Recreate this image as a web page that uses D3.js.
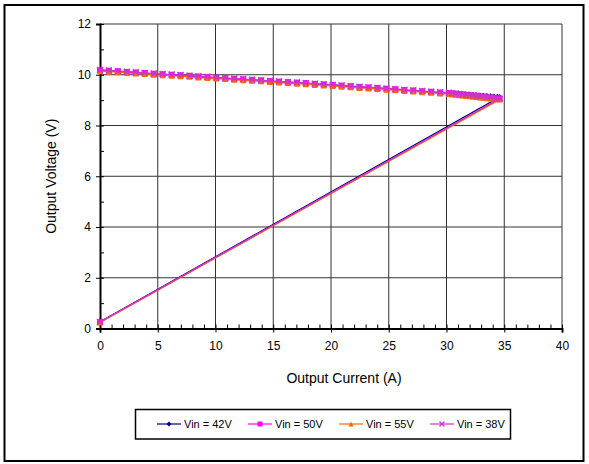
<!DOCTYPE html>
<html>
<head>
<meta charset="utf-8">
<script src="https://cdn.jsdelivr.net/npm/d3@7"></script>
<style>
  html, body { margin: 0; padding: 0; background: #fff; }
  svg { display: block; font-family: "Liberation Sans", Arial, sans-serif; }
</style>
</head>
<body>
<svg id="chart" width="589" height="464"></svg>
<script>
// Output current (A) for each load step; the last point returns to no load
const current = [0, 0.77, 1.55, 2.32, 3.1, 3.87, 4.65, 5.42, 6.2, 6.97,
  7.75, 8.52, 9.3, 10.07, 10.85, 11.62, 12.4, 13.17, 13.95, 14.72,
  15.5, 16.27, 17.05, 17.82, 18.6, 19.37, 20.15, 20.92, 21.7, 22.47,
  23.25, 24.02, 24.8, 25.57, 26.35, 27.12, 27.9, 28.67, 29.45, 30.2,
  30.5, 30.8, 31.1, 31.4, 31.7, 32.0, 32.3, 32.6, 32.9, 33.2,
  33.5, 33.8, 34.1, 34.4, 34.6, 0];

// Output voltage (V) per input voltage
const vin42 = [10.17, 10.15, 10.13, 10.10, 10.08, 10.06, 10.03, 10.01, 9.99, 9.97,
  9.95, 9.92, 9.90, 9.88, 9.86, 9.83, 9.81, 9.79, 9.77, 9.74,
  9.72, 9.70, 9.68, 9.66, 9.63, 9.61, 9.59, 9.56, 9.54, 9.51,
  9.49, 9.47, 9.44, 9.42, 9.39, 9.37, 9.34, 9.32, 9.29, 9.27,
  9.26, 9.25, 9.24, 9.23, 9.22, 9.21, 9.20, 9.19, 9.18, 9.17,
  9.16, 9.15, 9.14, 9.13, 9.12, 0.27];
const vin50 = [10.18, 10.16, 10.14, 10.11, 10.09, 10.07, 10.04, 10.02, 10.00, 9.98,
  9.96, 9.93, 9.91, 9.89, 9.87, 9.84, 9.82, 9.80, 9.78, 9.75,
  9.73, 9.71, 9.69, 9.67, 9.64, 9.62, 9.60, 9.57, 9.55, 9.52,
  9.50, 9.48, 9.45, 9.43, 9.40, 9.38, 9.35, 9.33, 9.30, 9.28,
  9.26, 9.25, 9.23, 9.22, 9.20, 9.19, 9.17, 9.16, 9.14, 9.13,
  9.11, 9.10, 9.08, 9.07, 9.05, 0.25];
const vin55 = [10.14, 10.12, 10.10, 10.07, 10.05, 10.03, 10.00, 9.98, 9.96, 9.94,
  9.92, 9.89, 9.87, 9.85, 9.83, 9.80, 9.78, 9.76, 9.74, 9.71,
  9.69, 9.67, 9.65, 9.63, 9.60, 9.58, 9.56, 9.53, 9.51, 9.48,
  9.46, 9.44, 9.41, 9.39, 9.36, 9.34, 9.31, 9.29, 9.26, 9.24,
  9.22, 9.21, 9.19, 9.18, 9.16, 9.15, 9.13, 9.12, 9.10, 9.09,
  9.07, 9.06, 9.04, 9.03, 9.02, 0.24];
const vin38 = [10.19, 10.17, 10.14, 10.12, 10.10, 10.07, 10.05, 10.03, 10.01, 9.99,
  9.96, 9.94, 9.92, 9.89, 9.87, 9.85, 9.83, 9.80, 9.78, 9.76,
  9.74, 9.71, 9.69, 9.67, 9.65, 9.62, 9.60, 9.58, 9.55, 9.53,
  9.51, 9.48, 9.46, 9.43, 9.41, 9.38, 9.36, 9.33, 9.31, 9.29,
  9.27, 9.26, 9.24, 9.23, 9.21, 9.20, 9.18, 9.17, 9.15, 9.14,
  9.12, 9.11, 9.09, 9.08, 9.06, 0.26];

const seriesNames = ["Vin = 42V", "Vin = 50V", "Vin = 55V", "Vin = 38V"];
const seriesValues = [vin42, vin50, vin55, vin38];
const seriesColors = ["#000080", "#FF00FF", "#FF6600", "#CC33CC"];
const seriesSymbols = ["diamond", "square", "triangle", "cross"];

const xTicks = [0, 5, 10, 15, 20, 25, 30, 35, 40];
const yTicks = [0, 2, 4, 6, 8, 10, 12];
const xMinor = d3.range(0, 41, 1);
const yMinor = d3.range(0, 13, 1);

const svg = d3.select("#chart");
const plot = { left: 100, right: 562, top: 24, bottom: 328.5 };

const x = d3.scaleLinear().domain([0, 40]).range([plot.left, plot.right]);
const y = d3.scaleLinear().domain([0, 12]).range([plot.bottom, plot.top]);

// outer frame
svg.append("rect")
  .attr("x", 4.5).attr("y", 5).attr("width", 579).attr("height", 456)
  .attr("fill", "#fff").attr("stroke", "#000").attr("stroke-width", 2);

// gridlines
const grid = svg.append("g").attr("stroke", "#333").attr("stroke-width", 1);
grid.selectAll("line.v").data(xTicks.slice(1)).join("line")
  .attr("x1", d => x(d)).attr("x2", d => x(d))
  .attr("y1", plot.top).attr("y2", plot.bottom);
grid.selectAll("line.h").data(yTicks.slice(1)).join("line")
  .attr("x1", plot.left).attr("x2", plot.right)
  .attr("y1", d => y(d)).attr("y2", d => y(d));

// axes
const xAxis = svg.append("g").attr("transform", `translate(0,${plot.bottom})`)
  .call(d3.axisBottom(x).tickValues(xTicks).tickSize(4).tickPadding(9));
const xMinorAxis = svg.append("g").attr("transform", `translate(0,${plot.bottom})`)
  .call(d3.axisTop(x).tickValues(xMinor).tickSize(4).tickFormat(""));
const yAxis = svg.append("g").attr("transform", `translate(${plot.left},0)`)
  .call(d3.axisLeft(y).tickValues(yTicks).tickSize(4).tickPadding(5));
const yMinorAxis = svg.append("g").attr("transform", `translate(${plot.left},0)`)
  .call(d3.axisRight(y).tickValues(yMinor).tickSize(4).tickFormat(""));

[xAxis, yAxis, xMinorAxis, yMinorAxis].forEach(g => {
  g.select(".domain").attr("stroke", "#000").attr("stroke-width", 2);
  g.selectAll(".tick line").attr("stroke", "#000");
  g.selectAll("text").attr("font-size", 12).attr("fill", "#000")
    .attr("font-family", "Liberation Sans, Arial, sans-serif");
});
xMinorAxis.select(".domain").remove();
yMinorAxis.select(".domain").remove();

// axis titles
svg.append("text").attr("x", 344).attr("y", 383)
  .attr("text-anchor", "middle").attr("font-size", 14).text("Output Current (A)");
svg.append("text")
  .attr("transform", `translate(56,${(plot.top + plot.bottom) / 2}) rotate(-90)`)
  .attr("text-anchor", "middle").attr("font-size", 14).text("Output Voltage (V)");

// marker shapes
function drawMarker(g, sym, color, size) {
  const s = size / 2;
  if (sym === "diamond") {
    g.append("path").attr("d", `M0,${-s}L${s},0L0,${s}L${-s},0Z`).attr("fill", color);
  } else if (sym === "square") {
    g.append("rect").attr("x", -s).attr("y", -s).attr("width", size).attr("height", size).attr("fill", color);
  } else if (sym === "triangle") {
    g.append("path").attr("d", `M0,${-s}L${s},${s}L${-s},${s}Z`).attr("fill", color);
  } else {
    g.append("path").attr("d", `M${-s},${-s}L${s},${s}M${-s},${s}L${s},${-s}`)
      .attr("stroke", color).attr("stroke-width", 1.3).attr("fill", "none");
  }
}

// series lines and markers
const line = d3.line().x(d => x(d[0])).y(d => y(d[1]));
seriesValues.forEach((vals, i) => {
  const pts = current.map((c, j) => [c, vals[j]]);
  const g = svg.append("g");
  g.append("path").datum(pts).attr("d", line)
    .attr("fill", "none").attr("stroke", seriesColors[i]).attr("stroke-width", 1.2);
  pts.forEach(p => {
    const m = g.append("g").attr("transform", `translate(${x(p[0])},${y(p[1])})`);
    drawMarker(m, seriesSymbols[i], seriesColors[i], 6);
  });
});

// legend
const legend = svg.append("g");
legend.append("rect").attr("x", 135.5).attr("y", 409.5).attr("width", 375).attr("height", 29.5)
  .attr("fill", "#fff").attr("stroke", "#000").attr("stroke-width", 1.5);
const legendX = [157, 248, 339, 430];
seriesNames.forEach((name, i) => {
  const g = legend.append("g").attr("transform", `translate(${legendX[i]},424)`);
  g.append("line").attr("x1", 0).attr("x2", 24).attr("y1", 0).attr("y2", 0)
    .attr("stroke", seriesColors[i]).attr("stroke-width", 1.2);
  const m = g.append("g").attr("transform", "translate(12,0)");
  drawMarker(m, seriesSymbols[i], seriesColors[i], 5);
  g.append("text").attr("x", 27).attr("y", 4).attr("font-size", 11).text(name);
});
</script>
</body>
</html>
